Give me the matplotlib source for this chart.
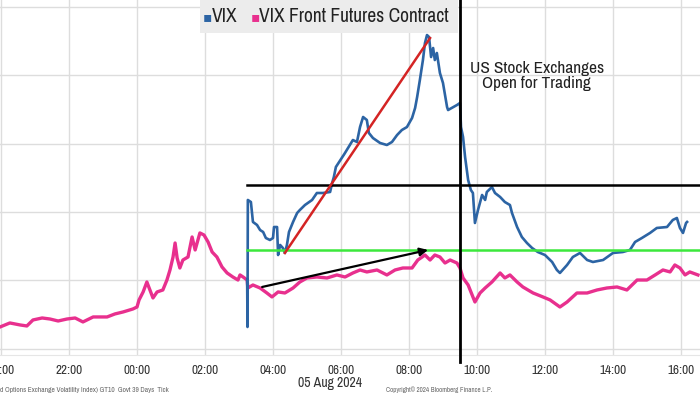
import matplotlib
matplotlib.use("Agg")
import matplotlib.pyplot as plt
from matplotlib.patches import Rectangle

# hours relative to midnight 05 Aug 2024 (negative = 04 Aug evening)
fut_t = [-4.03, -3.74, -3.44, -3.24, -3.06, -2.79, -2.56, -2.32, -2.06, -1.82,
         -1.59, -1.29, -0.88, -0.65, -0.41, -0.12, 0.00, 0.06, 0.18, 0.29,
         0.38, 0.47, 0.59, 0.76, 0.88, 0.97, 1.06, 1.12, 1.18, 1.26,
         1.35, 1.50, 1.62, 1.71, 1.85, 1.97, 2.09, 2.21, 2.35, 2.50,
         2.65, 2.82, 2.97, 3.03, 3.12, 3.24, 3.26, 3.41, 3.62, 3.82,
         3.97, 4.15, 4.35, 4.59, 4.79, 5.00, 5.29, 5.59, 5.88, 6.12,
         6.35, 6.56, 6.76, 7.06, 7.35, 7.59, 7.82, 8.09, 8.26, 8.47,
         8.62, 8.76, 8.91, 9.06, 9.21, 9.41, 9.50, 9.59, 9.74, 9.94,
         10.09, 10.24, 10.44, 10.68, 10.82, 10.97, 11.18, 11.35, 11.65, 11.94,
         12.15, 12.44, 12.65, 12.94, 13.24, 13.53, 13.82, 14.12, 14.41, 14.71,
         15.00, 15.24, 15.47, 15.68, 15.82, 15.97, 16.12, 16.26, 16.50]
fut_v = [23.16, 23.75, 23.46, 23.31, 24.19, 24.48, 24.33, 24.04, 24.33, 24.48,
         23.90, 24.63, 24.63, 25.07, 25.36, 25.80, 26.09, 27.12, 28.29, 29.75,
         28.58, 27.41, 28.29, 28.58, 30.04, 31.51, 33.41, 35.46, 33.27, 31.80,
         32.97, 33.41, 36.34, 34.44, 36.93, 36.63, 35.61, 34.14, 33.41, 31.95,
         31.07, 30.48, 30.04, 30.78, 30.48, 30.04, 28.87, 29.31, 28.87, 28.14,
         27.56, 28.29, 28.14, 28.87, 29.75, 30.34, 30.48, 30.34, 30.78, 30.48,
         31.07, 31.51, 31.22, 31.51, 30.78, 31.51, 31.80, 31.80, 32.97, 33.70,
         32.97, 33.70, 33.41, 32.53, 32.97, 32.53, 31.80, 30.34, 29.31, 26.82,
         28.14, 28.87, 29.75, 31.07, 30.34, 30.78, 29.75, 29.02, 28.14, 27.56,
         27.12, 26.09, 26.82, 28.14, 28.14, 28.58, 28.87, 29.02, 28.58, 30.04,
         30.04, 30.78, 31.51, 31.22, 32.24, 31.80, 30.78, 31.22, 30.78]

vix_t = [3.24, 3.25, 3.26, 3.35, 3.41, 3.53, 3.62, 3.71, 3.79, 3.91,
         4.00, 4.03, 4.12, 4.15, 4.21, 4.29, 4.35, 4.41, 4.47, 4.59,
         4.71, 4.79, 4.94, 5.15, 5.29, 5.47, 5.68, 5.74, 5.79, 5.85,
         6.10, 6.35, 6.47, 6.56, 6.65, 6.76, 6.82, 6.94, 7.15, 7.35,
         7.50, 7.65, 7.79, 7.94, 8.09, 8.18, 8.24, 8.32, 8.41, 8.47,
         8.53, 8.59, 8.65, 8.71, 8.76, 8.82, 8.91, 9.00, 9.12, 9.15,
         9.41, 9.50, 9.53, 9.59, 9.65, 9.74, 9.82, 9.88, 9.94, 10.03,
         10.15, 10.24, 10.29, 10.44, 10.53, 10.68, 10.82, 10.97, 11.03, 11.18,
         11.32, 11.47, 11.62, 11.79, 12.00, 12.21, 12.35, 12.44, 12.65, 12.82,
         13.03, 13.24, 13.41, 13.71, 14.00, 14.29, 14.50, 14.65, 14.85, 15.09,
         15.29, 15.59, 15.76, 15.88, 15.97, 16.06, 16.15, 16.18]
vix_v = [30.04, 23.16, 41.76, 41.46, 38.54, 38.10, 37.36, 37.07, 36.19, 35.90,
         36.19, 37.80, 37.80, 33.70, 35.17, 34.73, 34.00, 35.17, 37.07, 38.54,
         39.85, 40.29, 41.02, 41.76, 42.78, 42.78, 42.93, 44.25, 45.12, 46.59,
         48.50, 50.54, 50.25, 52.44, 53.91, 53.47, 51.57, 50.83, 50.10, 49.81,
         50.25, 51.27, 52.00, 52.44, 53.76, 55.23, 56.84, 59.32, 62.25, 64.74,
         65.91, 65.62, 62.69, 64.01, 62.25, 63.28, 60.35, 58.89, 55.37, 54.93,
         55.66, 55.96, 52.44, 50.98, 48.05, 44.68, 43.22, 42.78, 38.39, 40.29,
         42.49, 41.76, 42.93, 43.66, 42.78, 42.20, 41.46, 41.02, 39.85, 37.80,
         36.34, 35.46, 34.73, 34.14, 33.70, 32.68, 31.51, 31.07, 32.24, 33.41,
         34.00, 32.97, 32.68, 32.97, 34.00, 34.14, 34.44, 35.61, 36.19, 36.93,
         37.66, 37.80, 38.83, 39.12, 37.66, 36.93, 38.39, 38.54]

tick_t = [-4, -2, 0, 2, 4, 6, 8, 10, 12, 14, 16]
tick_lbl = ["20:00", "22:00", "00:00", "02:00", "04:00", "06:00",
            "08:00", "10:00", "12:00", "14:00", "16:00"]

black_level = 43.95
green_level = 34.44
red_line = ([4.35, 8.62], [34.00, 65.47])
arrow_from = (3.68, 29.02)
arrow_to = (8.56, 34.44)
open_t = 9.5

narrow = ["Archivo Narrow", "DejaVu Sans"]
blue = "#2c64a4"
pink = "#e8308e"

fig = plt.figure(figsize=(7, 3.94), dpi=100)
ax = fig.add_axes([0, 0.099, 1, 0.901])
ax.set_xlim(-4.03, 16.56)
ax.set_ylim(19.06, 71.04)

ax.set_xticks(tick_t)
ax.set_xticklabels(tick_lbl, fontfamily=narrow, fontsize=9.5, color="#333333")
ax.set_yticks([20, 30, 40, 50, 60, 70])
ax.tick_params(axis="y", left=False, labelleft=False)
ax.tick_params(axis="x", length=0, pad=7)
ax.grid(True, color="#dddddd", linewidth=1)
for s in ["left", "right", "top"]:
    ax.spines[s].set_visible(False)
ax.spines["bottom"].set_color("#e6e6e6")

ax.plot(fut_t, fut_v, color=pink, linewidth=2.4, zorder=3)
ax.plot(vix_t, vix_v, color=blue, linewidth=1.9, zorder=4)

ax.plot([3.24, 16.56], [black_level, black_level], color="black", lw=1.8, zorder=5)
ax.plot([3.24, 16.56], [green_level, green_level], color="#3ce83c", lw=1.8, zorder=5)
ax.plot(red_line[0], red_line[1], color="#d42424", lw=1.8, zorder=6)
ax.annotate("", xy=arrow_to, xytext=arrow_from,
            arrowprops=dict(arrowstyle="-|>", color="black", lw=1.6,
                            mutation_scale=12, shrinkA=0, shrinkB=0), zorder=6)
ax.plot([open_t, open_t], [-0.02, 1], color="black", lw=2,
        transform=ax.get_xaxis_transform(), clip_on=False, zorder=7)

ax.text(11.76, 59.9, "US Stock Exchanges\nOpen for Trading", ha="center",
        va="center", fontsize=12.5, fontfamily=narrow, color="#222222",
        linespacing=1.05, zorder=8)

# legend box at the top
fig.patches.append(Rectangle((200 / 700, 1 - 33 / 394), 258 / 700, 33 / 394,
                             transform=fig.transFigure, facecolor="#ececec",
                             edgecolor="none", zorder=9))
fig.text(203 / 700, 1 - 17 / 394, "\u25aa", color=blue, fontsize=10,
         fontfamily="DejaVu Sans", va="center", ha="left", zorder=10)
fig.text(212 / 700, 1 - 17 / 394, "VIX", color="#222222", fontsize=14,
         fontfamily=narrow, va="center", ha="left", zorder=10)
fig.text(251 / 700, 1 - 17 / 394, "\u25aa", color=pink, fontsize=10,
         fontfamily="DejaVu Sans", va="center", ha="left", zorder=10)
fig.text(259 / 700, 1 - 17 / 394, "VIX Front Futures Contract", color="#222222",
         fontsize=14, fontfamily=narrow, va="center", ha="left", zorder=10)

fig.text(330 / 700, 1 - 383 / 394, "05 Aug 2024", fontsize=10, fontfamily=narrow,
         color="#333333", ha="center", va="center")
fig.text(0, 1 - 390 / 394,
         "d Options Exchange Volatility Index) GT10  Govt 39 Days  Tick",
         fontsize=5.3, fontfamily=narrow, color="#666666", ha="left", va="center")
fig.text(386 / 700, 1 - 390 / 394, "Copyright\u00a9 2024 Bloomberg Finance L.P.",
         fontsize=5, fontfamily=narrow, color="#666666", ha="left", va="center")

fig.savefig("out.png", dpi=100)
